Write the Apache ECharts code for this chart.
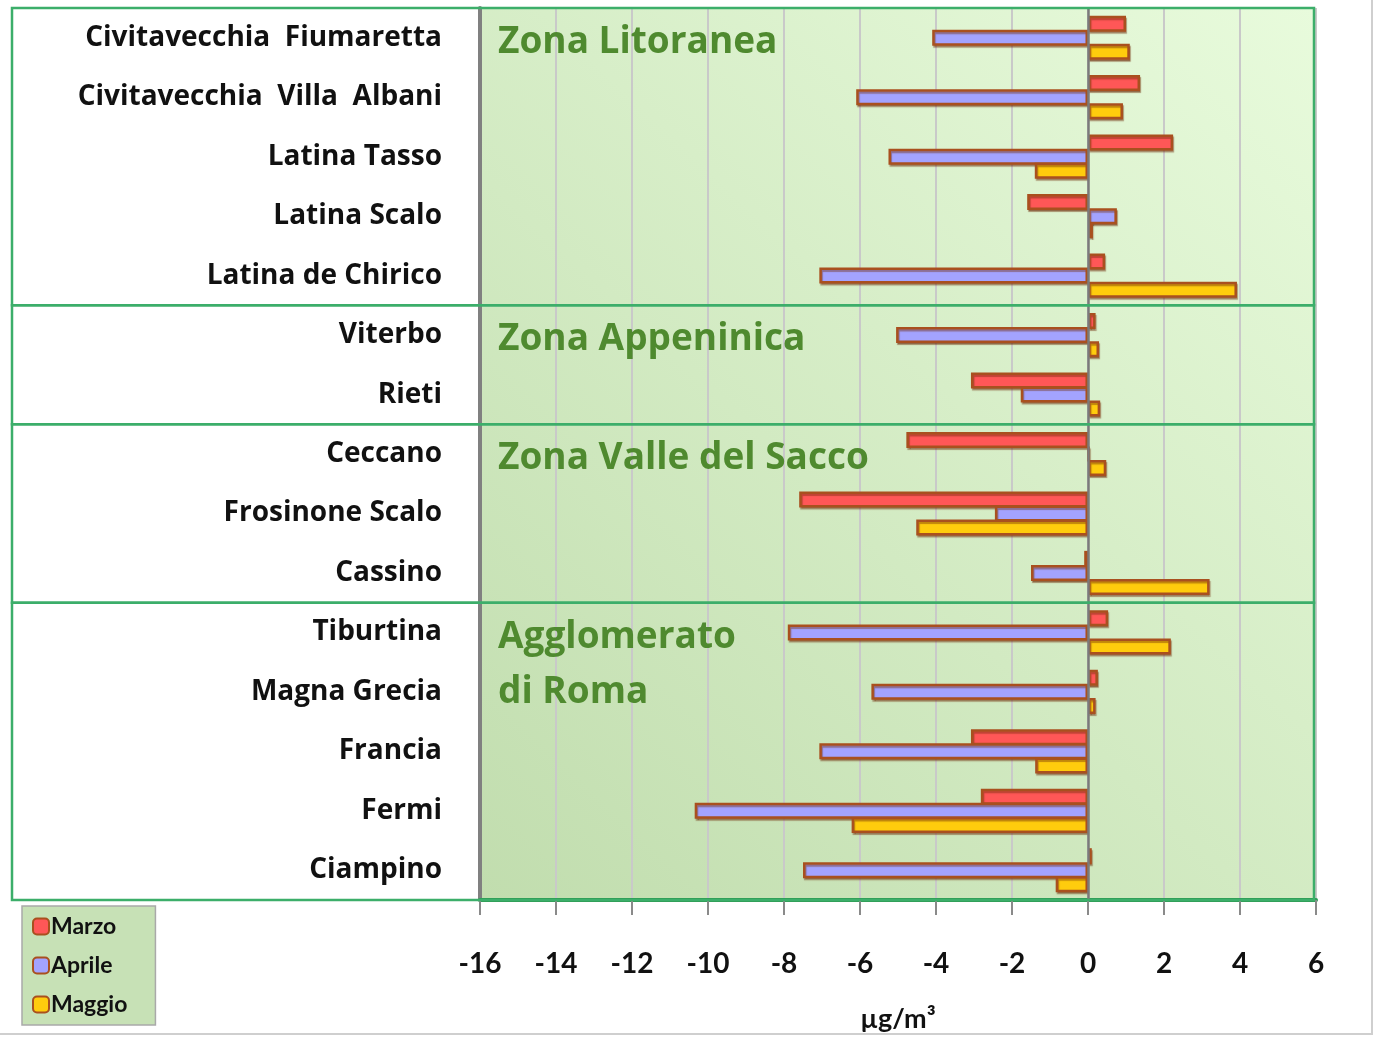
<!DOCTYPE html>
<html><head><meta charset="utf-8">
<script src="https://cdn.jsdelivr.net/npm/echarts@6/dist/echarts.min.js"></script>
<style>html,body{margin:0;padding:0;background:#fff}#c{width:1375px;height:1038px}</style>
</head><body><div id="c"></div>
<script>
const stations = ['Civitavecchia  Fiumaretta','Civitavecchia  Villa  Albani','Latina Tasso','Latina Scalo','Latina de Chirico','Viterbo','Rieti','Ceccano','Frosinone Scalo','Cassino','Tiburtina','Magna Grecia','Francia','Fermi','Ciampino'];
const marzo  = [1.0, 1.37, 2.24, -1.6, 0.45, 0.2, -3.08, -4.78, -7.6, -0.1, 0.53, 0.26, -3.08, -2.82, 0.1];
const aprile = [-4.1, -6.1, -5.25, 0.76, -7.07, -5.05, -1.77, 0.03, -2.45, -1.5, -7.9, -5.7, -7.07, -10.35, -7.5];
const maggio = [1.1, 0.92, -1.4, 0.13, 3.92, 0.29, 0.32, 0.48, -4.52, 3.2, 2.18, 0.2, -1.39, -6.22, -0.85];
const seriesNames = ['Marzo','Aprile','Maggio'];
const zones = [
  {name:['Zona Litoranea'], from:0, to:4},
  {name:['Zona Appeninica'], from:5, to:6},
  {name:['Zona Valle del Sacco'], from:7, to:9},
  {name:['Agglomerato','di Roma'], from:10, to:14}
];
const xMin = -16, xMax = 6, xStep = 2;

const chart = echarts.init(document.getElementById('c'));
const border = '#a9501f';
function mk(name, data, color) {
  return {
    name, type:'bar', data, barWidth:16, barGap:'-12%', barCategoryGap:'25%',
    itemStyle:{color, borderColor:border, borderWidth:2.5, shadowColor:'rgba(110,45,10,0.45)', shadowOffsetX:1, shadowOffsetY:2, shadowBlur:1},
    emphasis:{disabled:true}
  };
}
const series = [mk(seriesNames[0], marzo, '#ff5757'), mk(seriesNames[1], aprile, '#a3a3ff'), mk(seriesNames[2], maggio, '#ffcc0d')];
series[0].markLine = {silent:true, symbol:'none', label:{show:false}, lineStyle:{color:'#7a7a7a', width:2.5, type:'solid'}, data:[{xAxis:0}], z:10};

chart.setOption({
  animation:false,
  grid:{left:480, right:59, top:8, bottom:135, show:true, borderWidth:0,
    backgroundColor:new echarts.graphic.LinearGradient(0,1,1,0,[{offset:0,color:'#c1ddae'},{offset:1,color:'#e8fbdc'}])},
  legend:{orient:'vertical', left:22, top:906, data:seriesNames, itemWidth:16, itemHeight:16, itemGap:16,
    backgroundColor:'#c7e1b6', borderColor:'#a9a9a9', borderWidth:1.5, padding:[9,28,9,10],
    textStyle:{fontFamily:'Lato', fontWeight:'bold', fontSize:23, color:'#111', padding:[0,0,0,-3]}},
  xAxis:{type:'value', min:xMin, max:xMax, interval:xStep,
    name:'µg/m³', nameLocation:'middle', nameGap:106,
    nameTextStyle:{fontFamily:'Lato', fontWeight:'bold', fontSize:27, color:'#111'},
    axisLine:{show:true, onZero:false, lineStyle:{color:'#2e9b55', width:4}},
    axisTick:{show:true, length:15, lineStyle:{color:'#8a8a8a', width:2}},
    axisLabel:{fontFamily:'Lato', fontWeight:'bold', fontSize:28, color:'#111', margin:50},
    splitLine:{show:true, lineStyle:{color:'#c9c9c9', width:2}}},
  yAxis:{type:'category', data:stations, inverse:true,
    axisLine:{show:true, onZero:false, lineStyle:{color:'#808080', width:4}},
    axisTick:{show:false},
    axisLabel:{fontFamily:'Open Sans', fontWeight:'bold', fontSize:28, color:'#111', margin:38}},
  series
});

function draw() {
  const g = [];
  const c0 = chart.convertToPixel({yAxisIndex:0}, 0);
  const c1 = chart.convertToPixel({yAxisIndex:0}, 1);
  const band = c1 - c0;
  const xl = chart.convertToPixel({xAxisIndex:0}, xMin);
  const xr = chart.convertToPixel({xAxisIndex:0}, xMax);
  zones.forEach(z => {
    const top = chart.convertToPixel({yAxisIndex:0}, z.from) - band/2;
    const bot = chart.convertToPixel({yAxisIndex:0}, z.to) + band/2;
    g.push({type:'rect', shape:{x:12, y:top, width:xr-2-12, height:bot-top}, style:{fill:'none', stroke:'#3cae6a', lineWidth:2.5}, z:50, silent:true});
    z.name.forEach((t,i) => {
      g.push({type:'text', x:xl+18, y:top+16+i*55, style:{text:t, fill:'#4f8a2f', font:'bold 37px "Open Sans"', textVerticalAlign:'top'}, z:50, silent:true});
    });
  });
  g.push({type:'line', shape:{x1:1372, y1:0, x2:1372, y2:1035}, style:{stroke:'#cfcfcf', lineWidth:2}, silent:true});
  g.push({type:'line', shape:{x1:0, y1:1034, x2:1373, y2:1034}, style:{stroke:'#cfcfcf', lineWidth:2}, silent:true});
  chart.setOption({graphic:g});
}
draw();
</script></body></html>
